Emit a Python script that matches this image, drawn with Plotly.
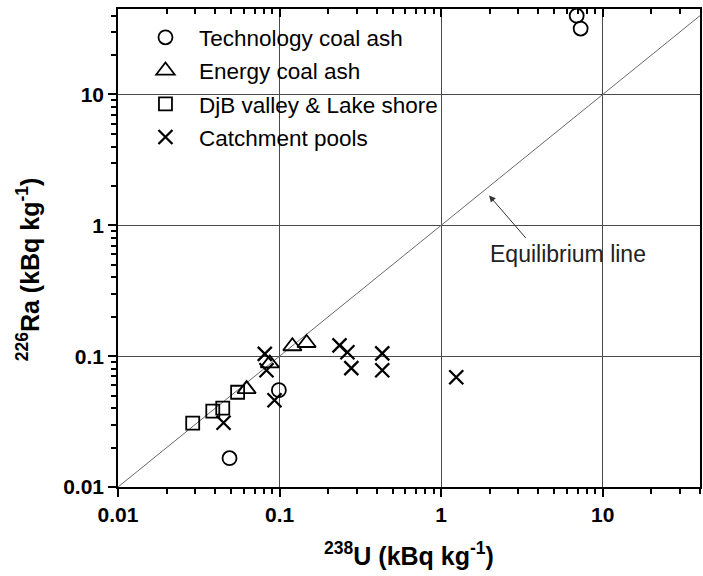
import plotly.graph_objects as go
import numpy as np

# ---- data (kBq/kg) ----
tech_u = [6.9, 7.3, 0.049, 0.099]
tech_ra = [40.0, 31.9, 0.0166, 0.055]

energy_u = [0.0625, 0.087, 0.120, 0.147]
energy_ra = [0.056, 0.088, 0.119, 0.126]

djb_u = [0.029, 0.0386, 0.0445, 0.055]
djb_ra = [0.0308, 0.038, 0.040, 0.053]

pool_u = [0.081, 0.083, 0.093, 0.045, 0.235, 0.263, 0.278, 0.432, 0.432, 1.24]
pool_ra = [0.104, 0.078, 0.046, 0.031, 0.121, 0.107, 0.081, 0.105, 0.078, 0.069]

equil = [0.01, 40.0]

major_vals = [0.01, 0.1, 1, 10]
major_text = ["0.01", "0.1", "1", "10"]

FONT = "Arial, Liberation Sans, sans-serif"

fig = go.Figure()

fig.add_trace(go.Scatter(x=equil, y=equil, mode="lines",
                         line=dict(color="#6a6a6a", width=1),
                         showlegend=False, hoverinfo="skip"))

def add(x, y, name, symbol, size, lw, group):
    fig.add_trace(go.Scatter(
        x=x, y=y, mode="markers", name=name, legendgroup=group,
        marker=dict(symbol=symbol, size=size, color="black",
                    line=dict(color="black", width=lw))))

add(tech_u, tech_ra, "Technology coal ash", "circle-open", 14, 1.8, "a")
add(energy_u, energy_ra, "Energy coal ash", "triangle-up-open", 16, 1.8, "b")
add(djb_u, djb_ra, "DjB valley &amp; Lake shore", "square-open", 13, 1.8, "c")
add(pool_u, pool_ra, "Catchment pools", "x-thin-open", 14, 2.3, "d")

# invisible trace to anchor the top (inside-tick) axis
fig.add_trace(go.Scatter(x=equil, y=equil, xaxis="x2", mode="markers",
                         marker=dict(opacity=0), showlegend=False,
                         hoverinfo="skip"))

minor_vals = [m * 10.0 ** e for e in range(-2, 2) for m in range(2, 10)]

xr = [-2, np.log10(40)]
yr = [-2, np.log10(45)]

fig.update_layout(
    width=703, height=576,
    margin=dict(l=118, r=1, t=9, b=89),
    paper_bgcolor="white", plot_bgcolor="white",
    font=dict(family=FONT, color="black"),
    xaxis=dict(
        type="log", range=xr,
        tickvals=major_vals, ticktext=major_text,
        ticks="outside", ticklen=8, tickwidth=1.5, tickcolor="black",
        tickfont=dict(size=21, weight="bold"),
        showline=True, linecolor="black", linewidth=1.6, mirror=True,
        showgrid=True, gridcolor="#4a4a4a", gridwidth=1,
        minor=dict(tickvals=minor_vals, ticks="outside", ticklen=5,
                   tickwidth=1.5, tickcolor="black", showgrid=False),
        zeroline=False,
        title=dict(text="<b><sup>238</sup>U (kBq kg<sup>-1</sup>)</b>",
                   font=dict(size=25), standoff=22),
    ),
    xaxis2=dict(
        type="log", range=xr, overlaying="x", side="top", anchor="y",
        tickvals=major_vals, showticklabels=False,
        ticks="inside", ticklen=8, tickwidth=1.5, tickcolor="black",
        showgrid=False, showline=False, zeroline=False,
        minor=dict(tickvals=minor_vals, ticks="inside", ticklen=5,
                   tickwidth=1.5, tickcolor="black", showgrid=False),
    ),
    yaxis=dict(
        type="log", range=yr,
        tickvals=major_vals, ticktext=major_text,
        ticks="outside", ticklen=8, tickwidth=1.5, tickcolor="black",
        tickfont=dict(size=21, weight="bold"),
        showline=True, linecolor="black", linewidth=1.6, mirror=True,
        showgrid=True, gridcolor="#4a4a4a", gridwidth=1,
        minor=dict(tickvals=minor_vals, ticks="outside", ticklen=5,
                   tickwidth=1.5, tickcolor="black", showgrid=False),
        zeroline=False,
    ),
    legend=dict(
        x=0.024, y=0.985, xanchor="left", yanchor="top",
        bgcolor="rgba(0,0,0,0)", borderwidth=0,
        font=dict(size=22.5, family=FONT),
        tracegroupgap=1, itemwidth=57,
    ),
    showlegend=True,
)

# y-axis title as annotation for exact placement
fig.add_annotation(
    text="<b><sup>226</sup>Ra (kBq kg<sup>-1</sup>)</b>",
    xref="paper", yref="paper", x=-0.155, y=0.455,
    textangle=-90, showarrow=False, font=dict(size=25),
    xanchor="center", yanchor="middle")

# Equilibrium line label with arrow
fig.add_annotation(
    x=np.log10(1.98), y=np.log10(1.69), xref="x", yref="y",
    text="", showarrow=True, arrowhead=2, arrowsize=1.3, arrowwidth=1,
    arrowcolor="#333333", ax=38, ay=44, standoff=0)
fig.add_annotation(
    x=0.784, y=-0.221, xref="x", yref="y",
    text="Equilibrium line", showarrow=False,
    font=dict(size=23, color="#222222"), xanchor="center", yanchor="middle")

fig.write_html("out.html")
